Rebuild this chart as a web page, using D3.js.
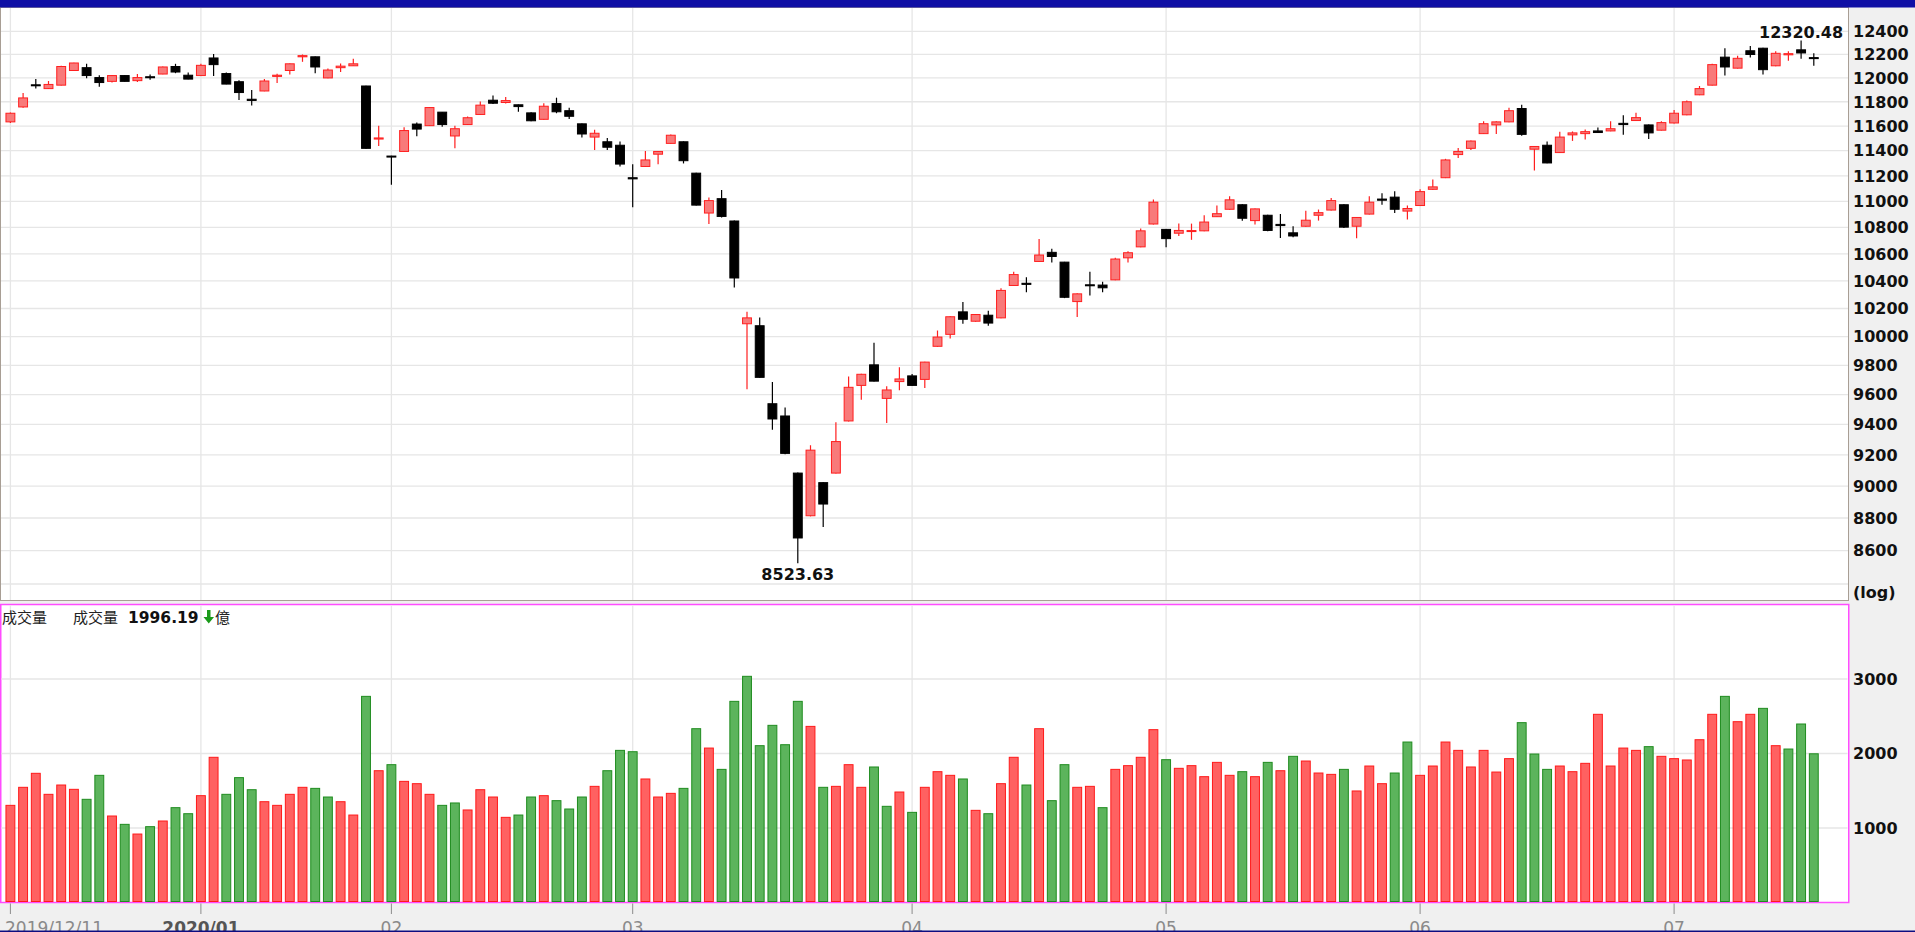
<!DOCTYPE html>
<html><head><meta charset="utf-8">
<script src="https://cdn.jsdelivr.net/npm/d3@7/dist/d3.min.js"></script>
<style>html,body{margin:0;padding:0;background:#f0f0f0;overflow:hidden}</style>
</head><body>
<svg id="chart" width="1915" height="932"></svg>
<script>
const dates = [
"2019/12/11","2019/12/12","2019/12/13","2019/12/16","2019/12/17","2019/12/18","2019/12/19","2019/12/20","2019/12/23","2019/12/24","2019/12/25","2019/12/26","2019/12/27","2019/12/30","2019/12/31",
"2020/01/02","2020/01/03","2020/01/06","2020/01/07","2020/01/08","2020/01/09","2020/01/10","2020/01/13","2020/01/14","2020/01/15","2020/01/16","2020/01/17","2020/01/20","2020/01/30","2020/01/31",
"2020/02/03","2020/02/04","2020/02/05","2020/02/06","2020/02/07","2020/02/10","2020/02/11","2020/02/12","2020/02/13","2020/02/14","2020/02/17","2020/02/18","2020/02/19","2020/02/20","2020/02/21","2020/02/24","2020/02/25","2020/02/26","2020/02/27",
"2020/03/02","2020/03/03","2020/03/04","2020/03/05","2020/03/06","2020/03/09","2020/03/10","2020/03/11","2020/03/12","2020/03/13","2020/03/16","2020/03/17","2020/03/18","2020/03/19","2020/03/20","2020/03/23","2020/03/24","2020/03/25","2020/03/26","2020/03/27","2020/03/30","2020/03/31",
"2020/04/01","2020/04/06","2020/04/07","2020/04/08","2020/04/09","2020/04/10","2020/04/13","2020/04/14","2020/04/15","2020/04/16","2020/04/17","2020/04/20","2020/04/21","2020/04/22","2020/04/23","2020/04/24","2020/04/27","2020/04/28","2020/04/29","2020/04/30",
"2020/05/04","2020/05/05","2020/05/06","2020/05/07","2020/05/08","2020/05/11","2020/05/12","2020/05/13","2020/05/14","2020/05/15","2020/05/18","2020/05/19","2020/05/20","2020/05/21","2020/05/22","2020/05/25","2020/05/26","2020/05/27","2020/05/28","2020/05/29",
"2020/06/01","2020/06/02","2020/06/03","2020/06/04","2020/06/05","2020/06/08","2020/06/09","2020/06/10","2020/06/11","2020/06/12","2020/06/15","2020/06/16","2020/06/17","2020/06/18","2020/06/19","2020/06/22","2020/06/23","2020/06/24","2020/06/29","2020/06/30",
"2020/07/01","2020/07/02","2020/07/03","2020/07/06","2020/07/07","2020/07/08","2020/07/09","2020/07/10","2020/07/13","2020/07/14","2020/07/15","2020/07/16"
];
const open = [
11634,11757,11942,11910,11939,12063,12087,12003,11971,12020,11977,12010,12033,12097,12023,
12020,12170,12037,11968,11821,11890,12013,12063,12180,12180,12000,12087,12103,11932,11494,
11357,11394,11616,11603,11714,11519,11612,11695,11813,11794,11775,11708,11655,11785,11726,11618,11510,11472,11444,
11185,11274,11372,11459,11472,11221,10910,11021,10849,10091,10077,9538,9456,9083,8814,9022,9083,9423,9662,9803,9574,9688,
9727,9703,9932,10016,10176,10109,10152,10133,10367,10383,10544,10612,10539,10250,10372,10370,10408,10571,10653,10826,
10785,10756,10772,10774,10882,10939,10974,10852,10893,10823,10759,10809,10893,10933,10974,10809,10902,11018,11033,10925,
10968,11094,11185,11369,11419,11538,11609,11634,11744,11412,11444,11385,11528,11538,11560,11560,11622,11645,11609,11566,
11625,11692,11858,11939,12177,12083,12232,12254,12103,12197,12240,12173
];
const high = [
11712,11874,11990,11974,12103,12130,12120,12023,12023,12022,12033,12030,12097,12120,12047,
12120,12203,12047,11980,11898,11990,12036,12122,12200,12182,12080,12123,12163,11934,11603,
11360,11590,11628,11755,11716,11603,11678,11803,11853,11840,11777,11714,11788,11834,11751,11620,11569,11503,11475,
11292,11397,11397,11531,11475,11224,11030,11088,10852,10176,10136,9686,9513,9086,9263,9025,9415,9722,9742,9957,9657,9787,
9740,9825,10043,10145,10247,10160,10184,10347,10467,10428,10712,10638,10541,10310,10467,10395,10571,10620,10791,11015,
10788,10829,10829,10893,10968,11040,10977,10945,10896,10902,10809,10928,10937,11027,10977,10880,11040,11063,11079,10968,
11094,11170,11335,11422,11482,11640,11640,11751,11775,11436,11475,11554,11556,11572,11588,11640,11688,11710,11612,11640,
11732,11810,11932,12120,12254,12190,12273,12258,12227,12227,12320.48,12210
];
const low = [
11625,11751,11910,11908,11936,12060,11997,11926,11961,11969,11965,11984,12031,12040,11988,
12018,12017,11946,11815,11770,11888,11958,12030,12137,12040,11998,12050,12101,11415,11438,
11130,11390,11516,11600,11595,11419,11608,11692,11782,11785,11717,11640,11652,11705,11658,11507,11406,11406,11274,
10955,11270,11292,11455,11298,10968,10826,10875,10353,9636,9715,9364,9205,8523.63,8810,8745,9080,9420,9564,9688,9410,9629,
9660,9644,9928,9986,10091,10105,10077,10130,10364,10317,10540,10536,10275,10139,10294,10317,10405,10536,10650,10822,
10650,10735,10706,10770,10880,10936,10850,10823,10771,10720,10725,10806,10852,10930,10795,10718,10899,10974,10910,10860,
10965,11090,11182,11341,11406,11535,11535,11630,11520,11243,11300,11382,11479,11491,11545,11557,11528,11641,11494,11563,
11621,11689,11855,11936,12020,12080,12173,12030,12100,12147,12163,12103
];
const close = [
11705,11832,11938,11945,12097,12127,12020,11961,12020,11971,12003,12006,12093,12050,11990,
12107,12113,11948,11877,11811,11974,12023,12120,12190,12093,12067,12100,12120,11419,11503,
11354,11563,11575,11752,11612,11578,11668,11772,11788,11810,11760,11643,11763,11717,11680,11535,11541,11428,11293,
11176,11326,11394,11525,11320,10971,11006,10884,10422,10133,9717,9436,9210,8677,9231,8887,9287,9649,9738,9691,9631,9706,
9662,9822,9997,10141,10123,10157,10096,10331,10447,10375,10592,10581,10281,10306,10367,10350,10562,10609,10774,10994,
10715,10777,10776,10841,10905,11012,10870,10942,10777,10814,10735,10855,10913,11006,10802,10876,10994,11009,10939,10945,
11076,11113,11326,11394,11478,11619,11634,11726,11532,11434,11302,11510,11544,11554,11547,11578,11612,11669,11544,11628,
11705,11800,11910,12113,12093,12167,12200,12070,12210,12207,12213,12167
];
const volume = [
1304,1546,1734,1452,1577,1519,1385,1707,1161,1049,919,1018,1094,1273,1192,
1434,1949,1452,1676,1514,1353,1304,1452,1546,1532,1416,1353,1174,2767,1769,
1850,1626,1595,1452,1304,1336,1242,1514,1416,1143,1174,1416,1434,1367,1255,1416,1559,1769,2042,
2024,1658,1416,1465,1532,2333,2073,1787,2700,3036,2105,2378,2118,2700,2364,1546,1559,1850,1546,1819,1291,1483,
1210,1546,1756,1707,1658,1237,1192,1595,1949,1577,2333,1367,1850,1546,1559,1273,1787,1837,1949,2320,
1917,1801,1837,1689,1881,1707,1756,1689,1881,1769,1962,1899,1738,1720,1787,1497,1832,1595,1738,2154,
1707,1832,2154,2042,1819,2042,1751,1931,2414,1993,1787,1832,1756,1868,2526,1832,2073,2042,2092,1962,
1931,1913,2185,2526,2767,2427,2526,2606,2105,2060,2396,1996.19
];
// 1 = close above previous close (red), 0 = below (green)
const volumeUp = [
1,1,1,1,1,1,0,0,1,0,1,0,1,0,0,
1,1,0,0,0,1,1,1,1,0,0,1,1,0,1,
0,1,1,1,0,0,1,1,1,1,0,0,1,0,0,0,1,0,0,
0,1,1,1,0,0,1,0,0,0,0,0,0,0,1,0,1,1,1,0,0,1,
0,1,1,1,0,1,0,1,1,0,1,0,0,1,1,0,1,1,1,1,
0,1,1,1,1,1,0,1,0,1,0,1,1,1,0,1,1,1,0,0,
1,1,1,1,1,1,1,1,0,0,0,1,1,1,1,1,1,1,0,1,
1,1,1,1,0,1,1,0,1,0,0,0
];
const priceGridTicks = [8400,8600,8800,9000,9200,9400,9600,9800,10000,10200,10400,10600,10800,11000,11200,11400,11600,11800,12000,12200,12400];
const priceTickLabels = ["8600","8800","9000","9200","9400","9600","9800","10000","10200","10400","10600","10800","11000","11200","11400","11600","11800","12000","12200","12400"];
const volumeTicks = [1000,2000,3000];
const monthTickDates = ["2019/12/11","2020/01/02","2020/02/03","2020/03/02","2020/04/01","2020/05/04","2020/06/01","2020/07/01"];
const monthTickLabels = ["2019/12/11","2020/01","02","03","04","05","06","07"];
const volumeTitle = "成交量";
const volumeUnit = "億";

const W = 1915, H = 932;
const svg = d3.select('#chart');
const FONT = "'DejaVu Sans', Verdana, sans-serif";
const CJK = "'Noto Sans CJK TC', 'Noto Sans CJK SC', sans-serif";

const x = d3.scaleBand().domain(dates).range([4.05, 4.05 + 12.7 * dates.length]).paddingInner(0.3).paddingOuter(0.15);
const cx = d => x(d) + x.bandwidth() / 2;
const yP = d3.scaleLog().domain([8400, 12400]).range([584, 31.4]);
const yV = d3.scaleLinear().domain([0, 4000]).range([902.5, 604.5]);

svg.append('rect').attr('width', W).attr('height', H).attr('fill', '#f0f0f0');

// panels
svg.append('rect').attr('x', 0.5).attr('y', 7.5).attr('width', 1848).attr('height', 593)
  .attr('fill', '#fff').attr('stroke', '#a89e94').attr('stroke-width', 1);
svg.append('rect').attr('x', 0.75).attr('y', 604.5).attr('width', 1848).attr('height', 298)
  .attr('fill', '#fff').attr('stroke', '#ff4cff').attr('stroke-width', 1.5);

// grid main
const gMain = svg.append('g');
gMain.selectAll('line.h').data(priceGridTicks).join('line')
  .attr('x1', 1).attr('x2', 1848).attr('y1', d => yP(d)).attr('y2', d => yP(d))
  .attr('stroke', '#e6e6e6').attr('stroke-width', 1.3);
gMain.selectAll('line.v').data(monthTickDates).join('line')
  .attr('x1', d => cx(d)).attr('x2', d => cx(d)).attr('y1', 8).attr('y2', 600)
  .attr('stroke', '#e6e6e6').attr('stroke-width', 1.3);

// grid volume
const gVol = svg.append('g');
gVol.selectAll('line.h').data(volumeTicks).join('line')
  .attr('x1', 1.5).attr('x2', 1847.5).attr('y1', d => yV(d)).attr('y2', d => yV(d))
  .attr('stroke', '#e6e6e6').attr('stroke-width', 1.3);
gVol.selectAll('line.v').data(monthTickDates).join('line')
  .attr('x1', d => cx(d)).attr('x2', d => cx(d)).attr('y1', 605.5).attr('y2', 901.5)
  .attr('stroke', '#e6e6e6').attr('stroke-width', 1.3);

// candles
const candles = dates.map((d, i) => ({d, o: open[i], h: high[i], l: low[i], c: close[i], v: volume[i], up: volumeUp[i]}));
const bw = x.bandwidth();
const gC = svg.append('g');
const cg = gC.selectAll('g').data(candles).join('g');
cg.append('line')
  .attr('x1', d => cx(d.d)).attr('x2', d => cx(d.d))
  .attr('y1', d => yP(d.h)).attr('y2', d => yP(d.l))
  .attr('stroke', d => d.c >= d.o ? '#ff1f1f' : '#000').attr('stroke-width', 1.2);
cg.append('rect')
  .attr('x', d => x(d.d)).attr('width', bw)
  .attr('y', d => yP(Math.max(d.o, d.c)))
  .attr('height', d => Math.max(1, yP(Math.min(d.o, d.c)) - yP(Math.max(d.o, d.c))))
  .attr('fill', d => d.c >= d.o ? '#f87a7a' : '#000')
  .attr('stroke', d => d.c >= d.o ? '#ff1f1f' : '#000').attr('stroke-width', 1);

// volume bars
svg.append('g').selectAll('rect').data(candles).join('rect')
  .attr('x', d => x(d.d)).attr('width', bw)
  .attr('y', d => yV(d.v)).attr('height', d => yV(0) - 1 - yV(d.v))
  .attr('fill', d => d.up ? '#ff6161' : '#5cb45c')
  .attr('stroke', d => d.up ? '#ff1a1a' : '#1f8c1f').attr('stroke-width', 1);

// high / low labels
const hiIdx = d3.maxIndex(high), loIdx = d3.minIndex(low);
svg.append('text').attr('x', cx(dates[hiIdx])).attr('y', yP(high[hiIdx]) - 3)
  .attr('text-anchor', 'middle').attr('font-family', FONT).attr('font-weight', 'bold')
  .attr('font-size', 16).attr('fill', '#111').text(high[hiIdx].toFixed(2));
svg.append('text').attr('x', cx(dates[loIdx])).attr('y', yP(low[loIdx]) + 16.5)
  .attr('text-anchor', 'middle').attr('font-family', FONT).attr('font-weight', 'bold')
  .attr('font-size', 16).attr('fill', '#111').text(low[loIdx].toFixed(2));

// right axis labels
svg.append('g').selectAll('text').data(priceTickLabels).join('text')
  .attr('x', 1853).attr('y', d => yP(+d)).attr('dy', '0.36em')
  .attr('font-family', FONT).attr('font-weight', 'bold').attr('font-size', 16).attr('fill', '#111')
  .text(d => d);
svg.append('text').attr('x', 1853).attr('y', 592).attr('dy', '0.36em')
  .attr('font-family', FONT).attr('font-weight', 'bold').attr('font-size', 16).attr('fill', '#111').text('(log)');
svg.append('g').selectAll('text').data(volumeTicks).join('text')
  .attr('x', 1853).attr('y', d => yV(d)).attr('dy', '0.36em')
  .attr('font-family', FONT).attr('font-weight', 'bold').attr('font-size', 16).attr('fill', '#111')
  .text(d => d);

// volume title
svg.append('text').attr('x', 2).attr('y', 623).attr('font-family', CJK).attr('font-size', 15).attr('fill', '#222').text(volumeTitle);
svg.append('text').attr('x', 73).attr('y', 623).attr('font-family', CJK).attr('font-size', 15).attr('fill', '#222').text(volumeTitle);
svg.append('text').attr('x', 128).attr('y', 623).attr('font-family', FONT).attr('font-weight', 'bold').attr('font-size', 15.5).attr('fill', '#111')
  .text(volume[volume.length - 1].toFixed(2));
svg.append('path').attr('d', 'M207,610 h3.5 v7 h3.5 l-5.25,6.5 l-5.25,-6.5 h3.5 z').attr('fill', '#1a9a1a');
svg.append('text').attr('x', 215).attr('y', 623).attr('font-family', CJK).attr('font-size', 15).attr('fill', '#222').text(volumeUnit);

// bottom ticks and labels
svg.append('g').selectAll('line').data(monthTickDates).join('line')
  .attr('x1', d => cx(d)).attr('x2', d => cx(d)).attr('y1', 903.5).attr('y2', 914)
  .attr('stroke', '#8c8c8c').attr('stroke-width', 1);
svg.append('g').selectAll('text').data(monthTickLabels).join('text')
  .attr('x', (d, i) => i === 0 ? 5 : cx(monthTickDates[i]))
  .attr('y', 934)
  .attr('text-anchor', (d, i) => i === 0 ? 'start' : 'middle')
  .attr('font-family', FONT).attr('font-size', 17)
  .attr('font-weight', d => d === '2020/01' ? 'bold' : 'normal')
  .attr('fill', d => d === '2020/01' ? '#555' : '#8a8a8a')
  .text(d => d);

// frame bars
svg.append('rect').attr('x', 0).attr('y', 0).attr('width', W).attr('height', 7.5).attr('fill', '#0f0fa5');
svg.append('rect').attr('x', 0).attr('y', 930.5).attr('width', W).attr('height', 1.5).attr('fill', '#0c0c80');
</script>
</body></html>
